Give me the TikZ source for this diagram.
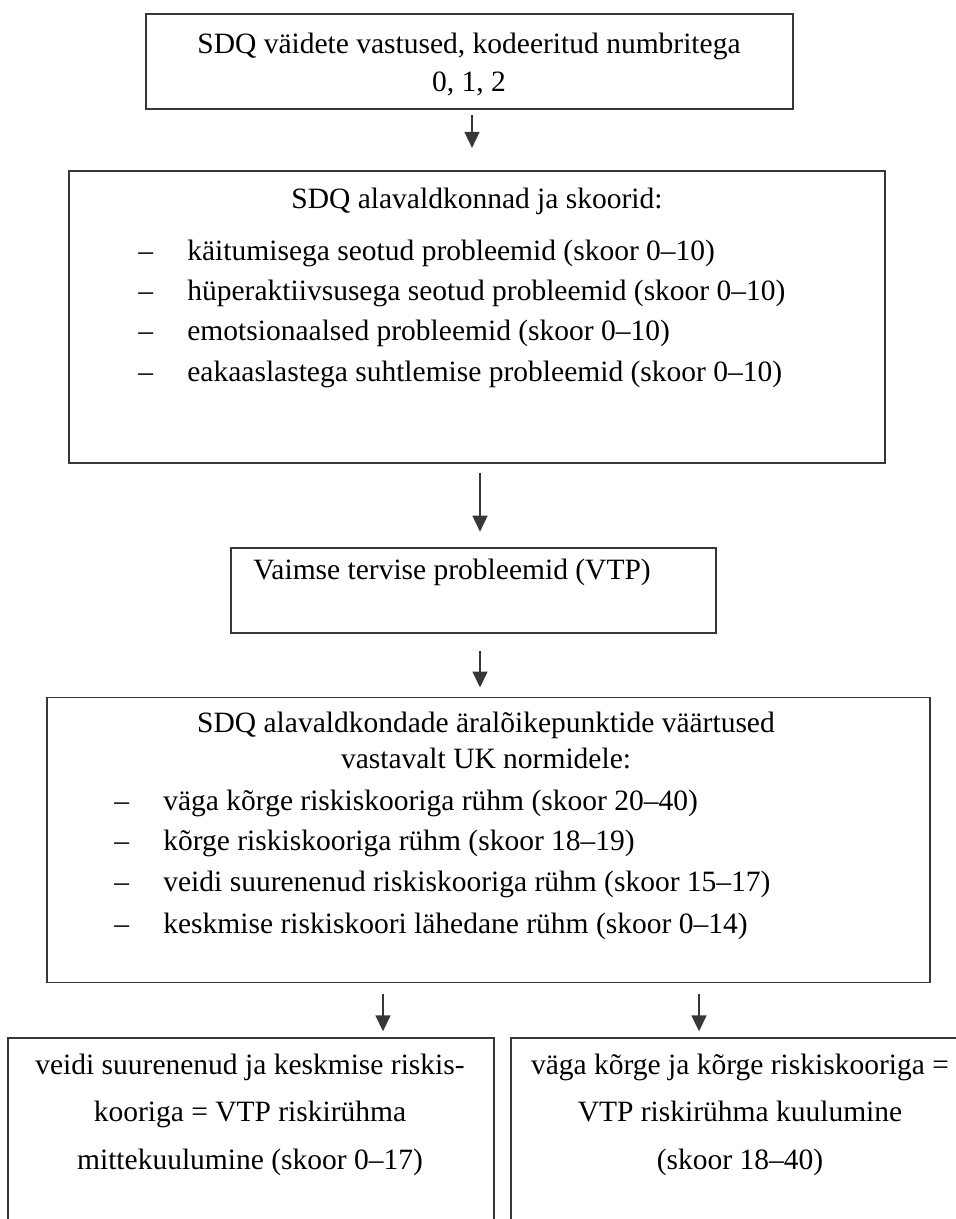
\documentclass[tikz,border=0pt]{standalone}
\usepackage{fontspec}
\setmainfont{Liberation Serif}
\usetikzlibrary{positioning,arrows.meta}
\definecolor{edgegray}{RGB}{55,55,55}
\tikzstyle{box} = [rectangle, draw=edgegray, line width=0.9pt, fill=none, inner sep=0pt]
\tikzstyle{textonly} = [draw=none, fill=none, inner sep=0pt, font=\fontsize{14.75pt}{18pt}\selectfont]
\tikzstyle{tedge} = [draw=edgegray, line width=0.8pt, -{Triangle[width=7.5pt,length=8pt]}]
\newcommand{\itemdash}{\makebox[24.5pt][l]{–}}

\begin{document}
\begin{tikzpicture}[x=0.5pt, y=-0.5pt]
\useasboundingbox (0,0) rectangle (955,1219);

% boxes =============================
\node[box, minimum width=323.5pt, minimum height=47.5pt] (codes) at (469.5,61.5) {};
\node[box, minimum width=408pt, minimum height=146pt, below=30pt of codes, xshift=3.75pt] (domains) {};
\node[box, minimum width=242.5pt, minimum height=42.5pt, below=41.5pt of domains, xshift=-1.75pt] (vtp) {};
\node[box, minimum width=441.5pt, minimum height=142.5pt, below=31.5pt of vtp, xshift=7.5pt] (cutoff) {};
\node[box, minimum width=243pt, minimum height=109.5pt, below=27pt of cutoff, xshift=-118.75pt] (norisk) {};
\node[box, minimum width=231pt, minimum height=109.5pt, right=7.5pt of norisk] (risk) {};

% text only
\node[textonly, anchor=base] (codes1) at (469,54) {SDQ väidete vastused, kodeeritud numbritega};
\node[textonly, anchor=base] (codes2) at (469,92) {0, 1, 2};

\node[textonly, anchor=base] (domtitle) at (477,209) {SDQ alavaldkonnad ja skoorid:};
\node[textonly, anchor=base west] (dom1) at (138,261) {\itemdash käitumisega seotud probleemid (skoor 0–10)};
\node[textonly, anchor=base west] (dom2) at (138,301) {\itemdash hüperaktiivsusega seotud probleemid (skoor 0–10)};
\node[textonly, anchor=base west] (dom3) at (138,341) {\itemdash emotsionaalsed probleemid (skoor 0–10)};
\node[textonly, anchor=base west] (dom4) at (138,381) {\itemdash eakaaslastega suhtlemise probleemid (skoor 0–10)};

\node[textonly, anchor=base west] (vtptext) at (253,579) {Vaimse tervise probleemid (VTP)};

\node[textonly, anchor=base] (cuttitle1) at (486,732) {SDQ alavaldkondade äralõikepunktide väärtused};
\node[textonly, anchor=base] (cuttitle2) at (486,768) {vastavalt UK normidele:};
\node[textonly, anchor=base west] (cut1) at (114,810) {\itemdash väga kõrge riskiskooriga rühm (skoor 20–40)};
\node[textonly, anchor=base west] (cut2) at (114,850) {\itemdash kõrge riskiskooriga rühm (skoor 18–19)};
\node[textonly, anchor=base west] (cut3) at (114,891) {\itemdash veidi suurenenud riskiskooriga rühm (skoor 15–17)};
\node[textonly, anchor=base west] (cut4) at (114,933) {\itemdash keskmise riskiskoori lähedane rühm (skoor 0–14)};

\node[textonly, anchor=base] (norisk1) at (250,1074) {veidi suurenenud ja keskmise riskis-};
\node[textonly, anchor=base] (norisk2) at (250,1121) {kooriga = VTP riskirühma};
\node[textonly, anchor=base] (norisk3) at (250,1169) {mittekuulumine (skoor 0–17)};

\node[textonly, anchor=base] (risk1) at (740,1074) {väga kõrge ja kõrge riskiskooriga =};
\node[textonly, anchor=base] (risk2) at (740,1121) {VTP riskirühma kuulumine};
\node[textonly, anchor=base] (risk3) at (740,1169) {(skoor 18–40)};

% edges
\path[tedge, shorten <=2.5pt, shorten >=11pt] ([xshift=1.25pt]codes.south) -- ([xshift=1.25pt]codes.south |- domains.north);
\path[tedge, shorten <=4.5pt, shorten >=7.5pt] ([xshift=1.5pt]domains.south) -- ([xshift=1.5pt]domains.south |- vtp.north);
\path[tedge, shorten <=8.5pt, shorten >=4.5pt] ([xshift=3.25pt]vtp.south) -- ([xshift=3.25pt]vtp.south |- cutoff.north);
\path[tedge, shorten <=5.5pt, shorten >=3pt] ([xshift=-52.75pt]cutoff.south) -- ([xshift=-52.75pt]cutoff.south |- norisk.north);
\path[tedge, shorten <=5.5pt, shorten >=3pt] ([xshift=105.25pt]cutoff.south) -- ([xshift=105.25pt]cutoff.south |- risk.north);

\end{tikzpicture}
\end{document}
